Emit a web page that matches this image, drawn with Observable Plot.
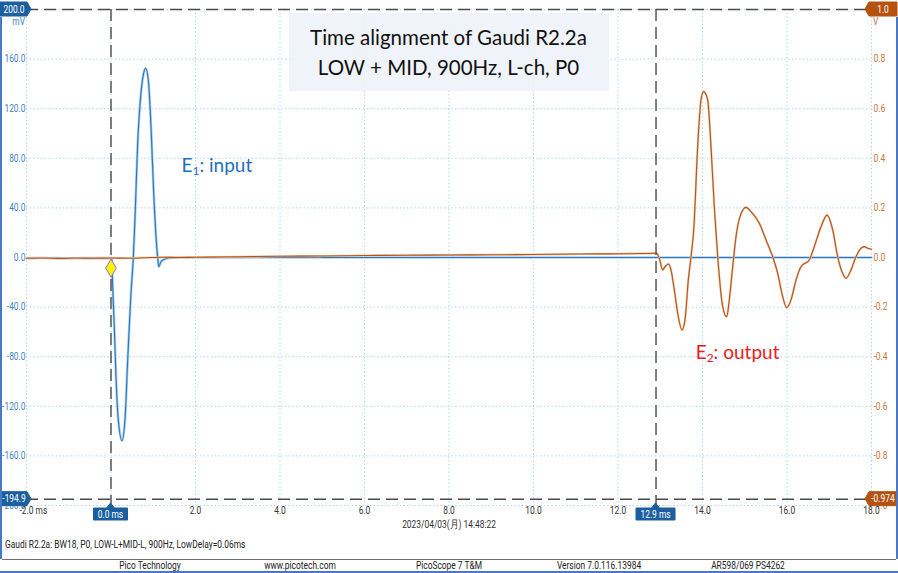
<!DOCTYPE html>
<html>
<head>
<meta charset="utf-8">
<script src="https://cdn.jsdelivr.net/npm/d3@7"></script>
<script src="https://cdn.jsdelivr.net/npm/@observablehq/plot@0.6"></script>
<style>
  body { margin: 0; background: #fff; }
  #wrap { position: relative; width: 898px; height: 573px; overflow: hidden; background: #fff;
          font-family: "Liberation Sans Narrow", Roboto, sans-serif; }
  #wrap svg { position: absolute; left: 0; top: 0; }
  .title { position: absolute; width: 320px; height: 78px; background: rgba(238,243,249,0.88);
           font-family: Lato, "Open Sans", sans-serif; font-size: 20.5px; line-height: 30px; color: #111;
           text-align: center; display: flex; flex-direction: column; justify-content: center; }
  .elabel { position: absolute; font-family: Lato, "Open Sans", sans-serif; font-size: 19px; line-height: 22px; white-space: nowrap; }
  .elabel sub { font-size: 12px; vertical-align: -3px; }
  .caption { position: absolute; left: 5px; top: 538px; font-size: 10.5px; line-height: 14px; color: #222;
             white-space: nowrap; transform-origin: left center; }
  .status { position: absolute; left: 2px; top: 559px; width: 894px; height: 12px; border-top: 1px solid #6b6b6b; }
  .status span { position: absolute; top: 0; font-size: 10.5px; line-height: 12px; color: #222; white-space: nowrap; }
  .bluebar { position: absolute; background: #4a78c8; }
</style>
</head>
<body>
<div id="wrap"></div>
<script>
// ---- data ----
const blueT = [-2, -1.5, -1, -0.5, -0.05, 0.017, 0.04, 0.078, 0.118, 0.173, 0.26, 0.331, 0.395, 0.473, 0.528, 0.575, 0.632, 0.71, 0.774, 0.821, 0.883, 0.947, 1.011, 1.065, 1.105, 1.129, 1.183, 1.262, 1.38, 1.6, 4, 8, 12, 18];
const blueMV = [-0.5, -0.4, -0.6, -0.5, -0.5, -0.5, -23.5, -55.8, -96.1, -131, -147.7, -131, -82.7, -28.6, -0.4, 38.3, 92.3, 132.7, 148.8, 152.6, 143.1, 105.5, 52, 16.8, 0, -7.4, -3.4, -1.5, -0.4, 0, 0, 0, 0, 0];

const orangeT = [-2, -1.6, -1.2, -0.8, -0.4, 0, 0.4, 0.8, 1.2, 1.6, 2, 3, 4, 5, 6, 7, 8, 9, 10, 11, 12, 12.5, 12.92,
  12.977, 13.058, 13.112, 13.2, 13.254, 13.333, 13.413, 13.515, 13.586, 13.664, 13.728, 13.792, 13.886, 13.964, 14.028,
  14.123, 14.201, 14.279, 14.36, 14.478, 14.573, 14.634, 14.715, 14.793, 14.888, 15.03, 15.148, 15.344, 15.503, 15.661,
  15.78, 15.898, 15.993, 16.095, 16.213, 16.331, 16.527, 16.646, 16.805, 16.947, 17.082, 17.2, 17.318, 17.396, 17.515,
  17.633, 17.751, 17.83, 17.91, 18.0];
const orangeV = [-0.003, -0.002, -0.004, -0.002, -0.003, -0.002, -0.003, -0.001, 0.001, 0, 0.001, 0.003, 0.005, 0.006, 0.008, 0.009, 0.01, 0.011, 0.012, 0.014, 0.015, 0.016, 0.017,
  -0.003, -0.05, -0.037, -0.026, -0.05, -0.131, -0.225, -0.292, -0.252, -0.091, 0.003, 0.111, 0.447, 0.635, 0.669,
  0.635, 0.447, 0.205, 0.003, -0.198, -0.239, -0.171, -0.037, 0.084, 0.165, 0.202, 0.185, 0.138, 0.071, 0.003,
  -0.064, -0.158, -0.202, -0.171, -0.091, -0.037, -0.01, 0.044, 0.124, 0.171, 0.111, 0.003, -0.064, -0.084, -0.05,
  0.003, 0.037, 0.044, 0.037, 0.033];

const markerT = [0];
const markerMV = [-8.6];

const xTicks = [-2, 0, 2, 4, 6, 8, 10, 12, 14, 16, 18];
const yTicks = [-200, -160, -120, -80, -40, 0, 40, 80, 120, 160, 200];
const cursorT = [0, 12.9];
const cursorMV = [200, -194.9];
const cursorRightLabels = ["1.0", "-0.974"];
const mvPerVolt = 200; // right axis: 1.0 V at the same height as 200 mV

const titleLines = ["Time alignment of Gaudi R2.2a", "LOW + MID, 900Hz, L-ch, P0"];
const dateText = "2023/04/03(月) 14:48:22";
const captionText = "Gaudi R2.2a: BW18, P0, LOW-L+MID-L, 900Hz, LowDelay=0.06ms";
const statusTexts = ["Pico Technology", "www.picotech.com", "PicoScope 7 T&M", "Version 7.0.116.13984", "AR598/069 PS4262"];
const e1Pos = {t: 1.68, mv: 74};
const e2Pos = {t: 13.85, mv: -76.6};

// ---- tables ----
const blue = blueT.map((t, i) => ({t, mv: blueMV[i]}));
const orange = orangeT.map((t, i) => ({t, mv: orangeV[i] * mvPerVolt}));
const marker = markerT.map((t, i) => ({t, mv: markerMV[i]}));
// the top tick label (200.0 / 1.0) is fully covered by the cursor tags, so it is not drawn
const labelTicks = yTicks.filter(d => d < 200);

const FONT = '"Liberation Sans Narrow", Roboto, sans-serif';
const BLUE_LBL = "#3f84c8", ORANGE_LBL = "#c4783a";
const GRID = "#a3d2ee";
const W = 898, H = 535, ML = 26, MR = 27, MT = 9, MB = 30;

const chart = Plot.plot({
  width: W, height: H, marginLeft: ML, marginRight: MR, marginTop: MT, marginBottom: MB,
  x: {domain: [-2, 18], axis: null},
  y: {domain: [-200, 200], axis: null},
  style: {fontFamily: FONT, fontSize: "10.5px", background: "transparent", overflow: "visible"},
  marks: [
    Plot.gridX(xTicks, {stroke: GRID, strokeOpacity: 1, strokeDasharray: "1.3,2.4"}),
    Plot.gridY(yTicks, {stroke: GRID, strokeOpacity: 1, strokeDasharray: "1.3,2.4"}),
    // left axis (mV)
    Plot.text(labelTicks, {y: d => d, frameAnchor: "left", textAnchor: "end", dx: -1, text: d => d.toFixed(1), fill: BLUE_LBL}),
    // right axis (V)
    Plot.text(labelTicks, {y: d => d, frameAnchor: "right", textAnchor: "start", dx: 2, text: d => (d / mvPerVolt).toFixed(1), fill: ORANGE_LBL}),
    // x tick labels
    Plot.text(xTicks.filter(d => d > -2 && !cursorT.includes(d)), {x: d => d, frameAnchor: "bottom", dy: 8, text: d => d.toFixed(1), fill: "#333"}),
    Plot.text(xTicks.filter(d => d === -2), {x: d => d, frameAnchor: "bottom", dy: 8, dx: -7, textAnchor: "start", text: d => d.toFixed(1) + " ms", fill: "#333"}),
    Plot.text([dateText], {x: () => 8, frameAnchor: "bottom", dy: 22, text: d => d, fill: "#333"}),
    // traces
    Plot.line(blue, {x: "t", y: "mv", stroke: "#aed0ec", strokeWidth: 2.6, curve: "monotone-x"}),
    Plot.line(blue, {x: "t", y: "mv", stroke: "#2c78c0", strokeWidth: 1.15, curve: "monotone-x"}),
    Plot.line(orange, {x: "t", y: "mv", stroke: "#ebc7a8", strokeWidth: 2.2, curve: "monotone-x"}),
    Plot.line(orange, {x: "t", y: "mv", stroke: "#b4561a", strokeWidth: 1.1, curve: "monotone-x"}),
    // cursors
    Plot.ruleY(cursorMV, {stroke: "#4a4a4a", strokeWidth: 1.4, strokeDasharray: "12,6"}),
    Plot.ruleX(cursorT, {stroke: "#4a4a4a", strokeWidth: 1.4, strokeDasharray: "12,6"}),
    Plot.dot(marker, {x: "t", y: "mv", symbol: "diamond", r: 5.5, fill: "#fff200", stroke: "#8678c8", strokeWidth: 1})
  ]
});

const wrap = document.getElementById("wrap");
wrap.appendChild(chart);

const X = chart.scale("x"), Y = chart.scale("y");
const svg = d3.select(chart);
const g = svg.append("g").attr("font-family", FONT).attr("font-size", 10.5);

function tag(d, tx, ty, label, fill) {
  g.append("path").attr("d", d).attr("fill", fill).attr("stroke", fill).attr("stroke-linejoin", "round").attr("stroke-width", 1);
  g.append("text").attr("x", tx).attr("y", ty).attr("dy", "0.35em").attr("text-anchor", "middle").attr("fill", "#fff").text(label);
}
const TAG_BLUE = "#1c5f9f", TAG_ORANGE = "#b5520f";
cursorMV.forEach((v, i) => {
  const cy = Y.apply(v);
  tag(`M0,${cy - 7}H${ML + 1}L${ML + 5},${cy}L${ML + 1},${cy + 7}H0Z`, (ML + 1) / 2 + 0.5, cy, v.toFixed(1), TAG_BLUE);
  const R = W - MR;
  tag(`M${W - 1},${cy - 7}H${R - 2}L${R - 6},${cy}L${R - 2},${cy + 7}H${W - 1}Z`, (R - 2 + W - 1) / 2, cy, cursorRightLabels[i], TAG_ORANGE);
});
g.append("text").attr("x", ML - 1).attr("y", Y.apply(200) + 12).attr("dy", "0.35em").attr("text-anchor", "end").attr("fill", BLUE_LBL).text("mV");
g.append("text").attr("x", W - MR + 2).attr("y", Y.apply(200) + 12).attr("dy", "0.35em").attr("text-anchor", "start").attr("fill", ORANGE_LBL).text("V");
const yb = Y.apply(-200);
cursorT.forEach(t => {
  const cx = X.apply(t);
  const label = t.toFixed(1) + " ms";
  const hw = label.length > 6 ? 19.5 : 17;
  tag(`M${cx - hw},${yb + 3}H${cx - 4}L${cx},${yb - 2}L${cx + 4},${yb + 3}H${cx + hw}V${yb + 15}H${cx - hw}Z`, cx, yb + 9.2, label, TAG_BLUE);
});

// narrow the instrument font horizontally (condensed look), anchored at each text's anchor point
const NARROW = 0.8;
svg.selectAll("text").each(function() {
  const bb = this.getBBox();
  const anchor = getComputedStyle(this).textAnchor;
  const ax = anchor === "end" ? bb.x + bb.width : anchor === "middle" ? bb.x + bb.width / 2 : bb.x;
  const old = this.getAttribute("transform") || "";
  this.setAttribute("transform", `${old} translate(${ax},0) scale(${NARROW},1) translate(${-ax},0)`);
});

// title box
const title = document.createElement("div");
title.className = "title";
title.style.left = (X.apply(8) - 160) + "px";
title.style.top = "13px";
title.innerHTML = titleLines.map(s => `<div>${s}</div>`).join("");
wrap.appendChild(title);

// E labels
function elabel(pos, sub, rest, color) {
  const d = document.createElement("div");
  d.className = "elabel";
  d.style.left = X.apply(pos.t) + "px";
  d.style.top = (Y.apply(pos.mv) - 11) + "px";
  d.style.color = color;
  d.innerHTML = `E<sub>${sub}</sub>: ${rest}`;
  wrap.appendChild(d);
}
elabel(e1Pos, "1", "input", "#1f6fbf");
elabel(e2Pos, "2", "output", "#e8201c");

// caption + status bar
const cap = document.createElement("div");
cap.className = "caption";
cap.style.transform = `scaleX(${NARROW})`;
cap.textContent = captionText;
wrap.appendChild(cap);
const st = document.createElement("div");
st.className = "status";
statusTexts.forEach((s, i) => {
  const sp = document.createElement("span");
  sp.style.left = (148 + 149.5 * i) + "px";
  sp.style.transform = `translateX(-50%) scaleX(${NARROW})`;
  sp.textContent = s;
  st.appendChild(sp);
});
wrap.appendChild(st);
[["0px", "17px", "2px", "542px"], ["896px", "17px", "2px", "542px"], ["0px", "571px", "898px", "2px"]].forEach(([l, t, w, h]) => {
  const b = document.createElement("div");
  b.className = "bluebar";
  Object.assign(b.style, {left: l, top: t, width: w, height: h});
  wrap.appendChild(b);
});
</script>
</body>
</html>
